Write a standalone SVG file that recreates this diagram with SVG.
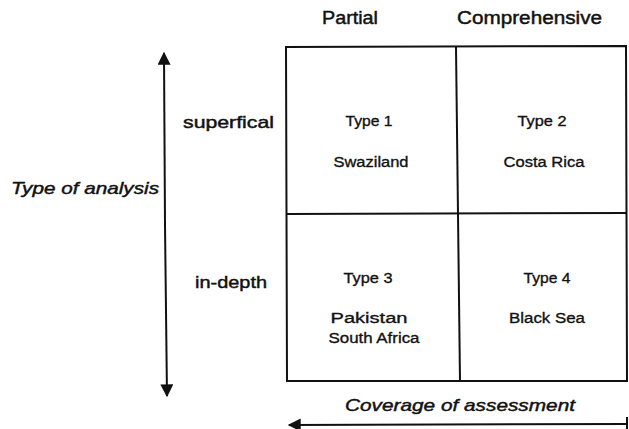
<svg xmlns="http://www.w3.org/2000/svg" width="629" height="429" viewBox="0 0 629 429">
  <style>
    text { fill: #111; stroke: #111; stroke-width: 0.45; font-family: "Liberation Sans", Arial, sans-serif; }
    .head { font-size: 18px; }
    .row { font-size: 17px; }
    .axis { font-size: 17px; font-style: italic; }
    .cell { font-size: 15.5px; text-anchor: middle; stroke-width: 0.35; }
    .grid { fill: none; stroke: #111; stroke-width: 2; }
    .arrow { fill: none; stroke: #111; stroke-width: 2; }
  </style>
  <defs>
    <marker id="head" viewBox="0 0 10 10" refX="9" refY="5" markerWidth="7" markerHeight="6.5" markerUnits="strokeWidth" orient="auto">
      <path d="M0,0 L10,5 L0,10 z" fill="#111"/>
    </marker>
  </defs>
  <rect width="629" height="429" fill="#fff" stroke="none"/>

  <!-- column and row headings -->
  <text class="head" x="322" y="24" textLength="56" lengthAdjust="spacingAndGlyphs">Partial</text>
  <text class="head" x="457" y="24" textLength="145" lengthAdjust="spacingAndGlyphs">Comprehensive</text>
  <text class="row" x="183" y="128" textLength="91" lengthAdjust="spacingAndGlyphs">superfical</text>
  <text class="row" x="195" y="288" textLength="72" lengthAdjust="spacingAndGlyphs">in-depth</text>
  <text class="axis" x="11" y="194" textLength="148" lengthAdjust="spacingAndGlyphs">Type of analysis</text>
  <text class="axis" x="345" y="411" textLength="230" lengthAdjust="spacingAndGlyphs">Coverage of assessment</text>

  <!-- 2x2 matrix -->
  <g id="matrix">
    <path class="grid" d="M286,47 L626,46 L627,381 L287,381 Z"/>
    <path class="grid" d="M456,47 L460,381"/>
    <path class="grid" d="M286,214 L627,213"/>
  </g>

  <g id="type1">
    <text class="cell" x="369" y="126" textLength="47" lengthAdjust="spacingAndGlyphs">Type 1</text>
    <text class="cell" x="371" y="167" textLength="75" lengthAdjust="spacingAndGlyphs">Swaziland</text>
  </g>
  <g id="type2">
    <text class="cell" x="542" y="126" textLength="49" lengthAdjust="spacingAndGlyphs">Type 2</text>
    <text class="cell" x="544" y="167" textLength="81" lengthAdjust="spacingAndGlyphs">Costa Rica</text>
  </g>
  <g id="type3">
    <text class="cell" x="368" y="283" textLength="49" lengthAdjust="spacingAndGlyphs">Type 3</text>
    <text class="cell" x="369" y="323" textLength="77" lengthAdjust="spacingAndGlyphs">Pakistan</text>
    <text class="cell" x="374" y="343" textLength="91" lengthAdjust="spacingAndGlyphs">South Africa</text>
  </g>
  <g id="type4">
    <text class="cell" x="547" y="283" textLength="47" lengthAdjust="spacingAndGlyphs">Type 4</text>
    <text class="cell" x="547" y="323" textLength="76" lengthAdjust="spacingAndGlyphs">Black Sea</text>
  </g>

  <!-- axis arrows -->
  <g id="connectors">
    <path class="arrow" d="M165,225 L164,53" marker-end="url(#head)"/>
    <path class="arrow" d="M165,225 L167,396" marker-end="url(#head)"/>
    <path class="arrow" d="M627,424 L289,425" marker-end="url(#head)"/>
    <path class="arrow" d="M627,417 L627,429"/>
  </g>
</svg>
